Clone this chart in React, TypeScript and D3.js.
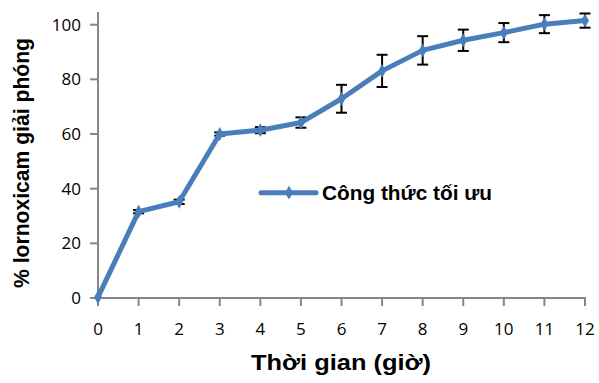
import React from "react";
import * as d3 from "d3";

const times = [0, 1, 2, 3, 4, 5, 6, 7, 8, 9, 10, 11, 12];
const released = [0.3, 31.6, 35.2, 60.0, 61.4, 64.2, 72.9, 83.1, 90.6, 94.3, 97.1, 100.2, 101.5];
const errors = [0, 0.6, 0.8, 0.6, 1.1, 1.9, 5.1, 5.9, 5.2, 3.9, 3.5, 3.3, 2.6];
const yTicks = [0, 20, 40, 60, 80, 100];
const seriesName = "Công thức tối ưu";
const xTitle = "Thời gian (giờ)";
const yTitle = "% lornoxicam giải phóng";

const W = 599;
const H = 383;

export default function App() {
  const x = d3.scaleLinear().domain([0, 12]).range([98, 585]);
  const y = d3.scaleLinear().domain([0, 100]).range([298, 24.7]);
  const line = d3
    .line<number>()
    .x((_, i) => x(times[i]))
    .y((d) => y(d));
  const blue = "#4a7ebb";
  const axisColor = "#868686";
  const tickFont = "'Open Sans', 'Liberation Sans', sans-serif";
  const boldFont = "'Liberation Sans Narrow', 'Liberation Sans', Arial, sans-serif";
  const diamond = d3.symbol().type(d3.symbolDiamond).size(55)() as string;
  const legendY = 192.7;

  return (
    <svg
      width={W}
      height={H}
      style={{ position: "absolute", left: 0, top: 0, background: "#fff" }}
    >
      {/* axes */}
      <line x1={98} x2={98} y1={12} y2={298} stroke={axisColor} strokeWidth={2} />
      <line x1={97} x2={586} y1={298} y2={298} stroke={axisColor} strokeWidth={2} />
      {yTicks.map((t) => (
        <g key={"y" + t}>
          <line x1={90} x2={98} y1={y(t)} y2={y(t)} stroke={axisColor} strokeWidth={2} />
          <text
            x={81}
            y={y(t)}
            dy="0.36em"
            textAnchor="end"
            fontFamily={tickFont}
            fontSize={17}
            fill="#000"
          >
            {t}
          </text>
        </g>
      ))}
      {times.map((t) => (
        <g key={"x" + t}>
          <line x1={x(t)} x2={x(t)} y1={298} y2={306} stroke={axisColor} strokeWidth={2} />
          <text
            x={x(t)}
            y={329}
            dy="0.36em"
            textAnchor="middle"
            fontFamily={tickFont}
            fontSize={17}
            fill="#000"
          >
            {t}
          </text>
        </g>
      ))}

      {/* error bars */}
      {released.map((v, i) =>
        errors[i] > 0 ? (
          <g key={"e" + i} stroke="#000" strokeWidth={2}>
            <line x1={x(times[i])} x2={x(times[i])} y1={y(v + errors[i])} y2={y(v - errors[i])} />
            <line x1={x(times[i]) - 5.5} x2={x(times[i]) + 5.5} y1={y(v + errors[i])} y2={y(v + errors[i])} />
            <line x1={x(times[i]) - 5.5} x2={x(times[i]) + 5.5} y1={y(v - errors[i])} y2={y(v - errors[i])} />
          </g>
        ) : null
      )}

      {/* series line */}
      <path d={line(released) as string} fill="none" stroke={blue} strokeWidth={5} strokeLinejoin="round" />
      {released.map((v, i) => (
        <path key={"m" + i} d={diamond} transform={`translate(${x(times[i])},${y(v)})`} fill={blue} />
      ))}

      {/* legend */}
      <line x1={261} x2={316} y1={legendY} y2={legendY} stroke={blue} strokeWidth={5} strokeLinecap="round" />
      <path d={diamond} transform={`translate(289,${legendY})`} fill={blue} />
      <text
        x={322}
        y={legendY + 7.5}
        fontFamily={boldFont}
        fontWeight="bold"
        fontSize={20}
        fill="#000"
        textLength={170}
        lengthAdjust="spacingAndGlyphs"
      >
        {seriesName}
      </text>

      {/* axis titles */}
      <text
        x={341}
        y={370}
        textAnchor="middle"
        fontFamily={boldFont}
        fontWeight="bold"
        fontSize={22}
        fill="#000"
        textLength={180}
        lengthAdjust="spacingAndGlyphs"
      >
        {xTitle}
      </text>
      <text
        transform={`translate(29,163) rotate(-90)`}
        textAnchor="middle"
        fontFamily={boldFont}
        fontWeight="bold"
        fontSize={22}
        fill="#000"
        textLength={250}
        lengthAdjust="spacingAndGlyphs"
      >
        {yTitle}
      </text>
    </svg>
  );
}
